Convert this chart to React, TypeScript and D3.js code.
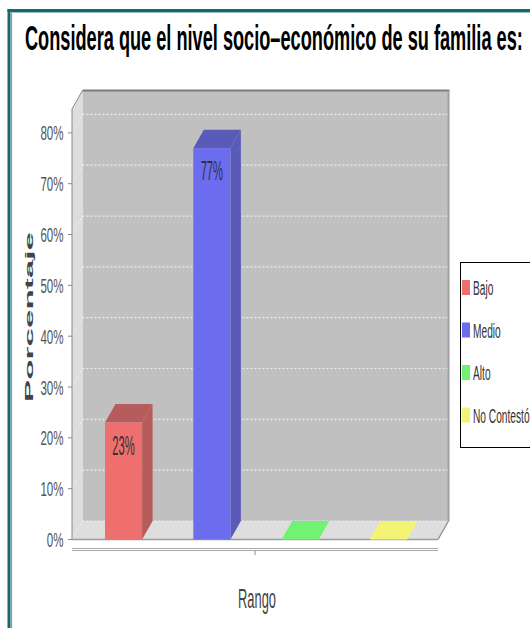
import React, { useLayoutEffect, useRef, useState } from "react";
import * as d3 from "d3";

const title = "Considera que el nivel socio–económico de su familia es:";
const categories = ["Rango"];
const series = ["Bajo", "Medio", "Alto", "No Contestó"];
const values = [0.23, 0.77, 0, 0];
const valueLabels = ["23%", "77%", "", ""];
const yTicks = [0, 0.1, 0.2, 0.3, 0.4, 0.5, 0.6, 0.7, 0.8];
const yMax = 0.847;
const frontColors = ["#ef6f6f", "#6c6cee", "#72f272", "#f3f374"];
const darkColors = ["#b65c5c", "#5a5ab9", "#5cba5c", "#bcbc5c"];

const W = 530;
const H = 628;
const x0 = 72;
const x1 = 438;
const yBottom = 539.5;
const yTop = 109;
const dx = 10.5;
const dy = -18.5;

const FONT = "'Liberation Sans', Arial, sans-serif";

function SText(props: any) {
  const { x, y, sx, anchor, size, weight, fill, children } = props;
  return (
    <text
      transform={`translate(${x},${y}) scale(${sx},1)`}
      textAnchor={anchor || "start"}
      fontSize={size}
      fontWeight={weight || "normal"}
      fill={fill || "#333"}
      fontFamily={FONT}
    >
      {children}
    </text>
  );
}

function FitText(props: any) {
  const { x, y, width, size, weight, fill, children } = props;
  const ref = useRef<SVGTextElement>(null);
  const [sx, setSx] = useState(0.5);
  useLayoutEffect(() => {
    if (ref.current) {
      const w = ref.current.getComputedTextLength();
      if (w > 0) setSx(width / w);
    }
  }, [width]);
  return (
    <text
      ref={ref}
      transform={`translate(${x},${y}) scale(${sx},1)`}
      fontSize={size}
      fontWeight={weight || "normal"}
      fill={fill || "#000"}
      fontFamily={FONT}
    >
      {children}
    </text>
  );
}

export default function App() {
  const y = d3.scaleLinear().domain([0, yMax]).range([yBottom, yTop]);
  const xCat = d3.scaleBand().domain(categories).range([x0, x1]);
  const cx0 = (xCat(categories[0]) as number) + 33;
  const cx1 = (xCat(categories[0]) as number) + xCat.bandwidth() - 31;
  const xs = d3.scaleBand().domain(series).range([cx0, cx1]).paddingInner(0.58).paddingOuter(0);
  const bw = xs.bandwidth();
  const catCenter = (xCat(categories[0]) as number) + xCat.bandwidth() / 2;
  const pts = (arr: number[][]) => arr.map((p) => p.join(",")).join(" ");

  return (
    <svg width={W} height={H} style={{ position: "absolute", left: 0, top: 0, background: "#fff" }}>
      {/* frame */}
      <rect x={7.5} y={9} width={3} height={H - 9} fill="#146a68" />
      <rect x={10.5} y={12} width={1.6} height={H - 12} fill="#7a9ea8" />
      <rect x={7.5} y={9} width={W} height={3} fill="#146a68" />
      <rect x={10.5} y={12} width={W} height={1} fill="#9fbcc2" />

      {/* title */}
      <FitText x={25} y={50} width={498} size={36} weight="bold" fill="#000">
        {title}
      </FitText>

      {/* back wall */}
      <rect x={x0 + dx} y={yTop + dy} width={x1 - x0} height={yBottom - yTop} fill="#c0c0c0" />
      {/* left wall */}
      <polygon points={pts([[x0, yBottom], [x0, yTop], [x0 + dx, yTop + dy], [x0 + dx, yBottom + dy]])} fill="#dddddd" />
      {/* floor */}
      <polygon points={pts([[x0, yBottom], [x1, yBottom], [x1 + dx, yBottom + dy], [x0 + dx, yBottom + dy]])} fill="#dedede" />

      {/* gridlines */}
      {yTicks.map((t) => (
        <g key={"g" + t}>
          <line x1={x0 + dx} x2={x1 + dx} y1={y(t) + dy} y2={y(t) + dy} stroke="#ededed" strokeWidth={1.2} strokeDasharray="2,2" />
          <line x1={x0} x2={x0 + dx} y1={y(t)} y2={y(t) + dy} stroke="#f0f0f0" strokeWidth={1} strokeDasharray="2,2" />
        </g>
      ))}

      {/* outline of the box */}
      <line x1={x0 + dx} x2={x1 + dx + 1} y1={yTop + dy} y2={yTop + dy} stroke="#7d7d7d" strokeWidth={2} />
      <line x1={x0} x2={x0 + dx} y1={yTop} y2={yTop + dy} stroke="#8a8a8a" strokeWidth={1} />
      <line x1={x1 + dx} x2={x1 + dx} y1={yTop + dy} y2={yBottom + dy} stroke="#a0a0a0" strokeWidth={2} />
      <line x1={x1} x2={x1 + dx} y1={yBottom} y2={yBottom + dy} stroke="#8a8a8a" strokeWidth={1.2} />
      <line x1={x0} x2={x1} y1={yBottom} y2={yBottom} stroke="#9a9a9a" strokeWidth={1.5} />

      {/* bars */}
      {series.map((s, i) => {
        const bx = xs(s) as number;
        const yv = y(values[i]);
        const y0 = y(0);
        return (
          <g key={s}>
            <polygon
              points={pts([[bx + bw, yv], [bx + bw + dx, yv + dy], [bx + bw + dx, y0 + dy], [bx + bw, y0]])}
              fill={darkColors[i]}
            />
            <polygon
              points={pts([[bx, yv], [bx + bw, yv], [bx + bw + dx, yv + dy], [bx + dx, yv + dy]])}
              fill={values[i] === 0 ? frontColors[i] : darkColors[i]}
            />
            <rect x={bx} y={yv} width={bw} height={y0 - yv} fill={frontColors[i]} />
            {valueLabels[i] && (
              <SText x={bx + bw / 2} y={yv + 32} sx={0.4} anchor="middle" size={28} fill="#333">
                {valueLabels[i]}
              </SText>
            )}
          </g>
        );
      })}

      {/* y axis */}
      <line x1={x0} x2={x0} y1={yTop} y2={yBottom} stroke="#888" strokeWidth={1} />
      {yTicks.map((t) => (
        <g key={"t" + t}>
          <line x1={x0 - 4} x2={x0} y1={y(t)} y2={y(t)} stroke="#888" />
          <SText x={63.5} y={y(t) + 7.5} sx={0.55} anchor="end" size={21} fill="#555">
            {d3.format(".0%")(t)}
          </SText>
        </g>
      ))}
      <text
        transform={`translate(33,317) rotate(-90)`}
        textAnchor="middle"
        fontSize={11}
        fontWeight="bold"
        fontFamily={FONT}
        fill="#444"
        textLength={170}
        lengthAdjust="spacingAndGlyphs"
      >
        Porcentaje
      </text>

      {/* x axis */}
      <line x1={x0} x2={x1} y1={548.5} y2={548.5} stroke="#a8a8a8" strokeWidth={1} />
      <line x1={x0} x2={x1} y1={550.5} y2={550.5} stroke="#a8a8a8" strokeWidth={1.2} />
      <line x1={catCenter} x2={catCenter} y1={551} y2={555} stroke="#888" />
      <SText x={catCenter + 2} y={608} sx={0.46} anchor="middle" size={28} fill="#444">
        Rango
      </SText>

      {/* legend */}
      <rect x={460.5} y={262.5} width={100} height={185} fill="#fff" stroke="#000" strokeWidth={1} />
      {series.map((s, i) => {
        const by = 295 + i * 42.5;
        return (
          <g key={"l" + s}>
            <rect x={462} y={by - 15} width={8} height={15} fill={frontColors[i]} />
            <SText x={473} y={by} sx={0.485} size={21} fill="#333">
              {s}
            </SText>
          </g>
        );
      })}
    </svg>
  );
}
